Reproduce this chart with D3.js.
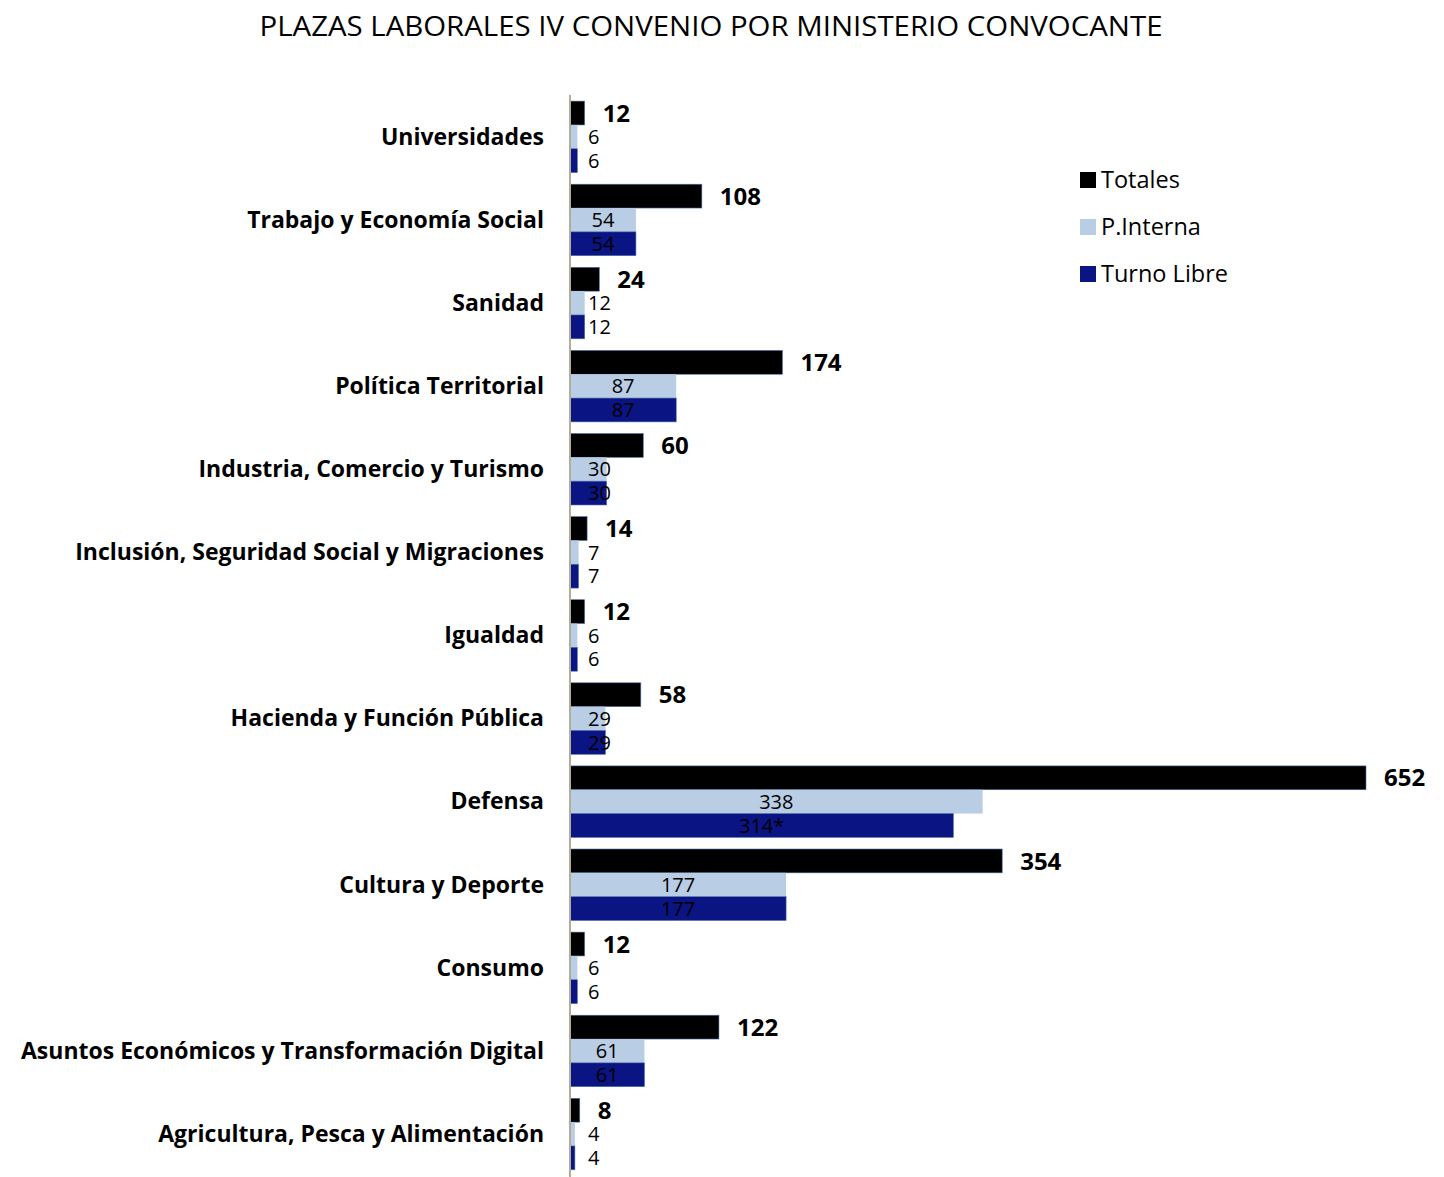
<!DOCTYPE html>
<html>
<head>
<meta charset="utf-8">
<script src="https://cdn.jsdelivr.net/npm/d3@7"></script>
<style>
  body { margin: 0; background: #fff; }
  svg { display: block; font-family: "Open Sans", "Noto Sans", sans-serif; }
</style>
</head>
<body>
<script>
// Datos del gráfico
var ministerios = ["Universidades", "Trabajo y Economía Social", "Sanidad", "Política Territorial",
  "Industria, Comercio y Turismo", "Inclusión, Seguridad Social y Migraciones", "Igualdad",
  "Hacienda y Función Pública", "Defensa", "Cultura y Deporte", "Consumo",
  "Asuntos Económicos y Transformación Digital", "Agricultura, Pesca y Alimentación"];
var totales = [12, 108, 24, 174, 60, 14, 12, 58, 652, 354, 12, 122, 8];
var pInterna = [6, 54, 12, 87, 30, 7, 6, 29, 338, 177, 6, 61, 4];
var turnoLibre = [6, 54, 12, 87, 30, 7, 6, 29, 314, 177, 6, 61, 4];
var etiquetasTurno = ["6", "54", "12", "87", "30", "7", "6", "29", "314*", "177", "6", "61", "4"];
var series = ["Totales", "P.Interna", "Turno Libre"];

var width = 1444, height = 1177;
var colores = { "Totales": "#000000", "P.Interna": "#b9cde5", "Turno Libre": "#0b1483" };

var svg = d3.select("body").append("svg")
  .attr("width", width)
  .attr("height", height);

// Título
svg.append("text")
  .attr("x", 711).attr("y", 36)
  .attr("text-anchor", "middle")
  .attr("font-size", 28)
  .attr("textLength", 903)
  .attr("lengthAdjust", "spacingAndGlyphs")
  .text("PLAZAS LABORALES IV CONVENIO POR MINISTERIO CONVOCANTE");

var x = d3.scaleLinear().domain([0, 652]).range([570, 1366]);
var y = d3.scaleBand().domain(ministerios).range([95.3, 1175.6])
  .paddingInner(0.14).paddingOuter(0.07);
var ySub = d3.scaleBand().domain(series).range([0, y.bandwidth()]);

// Filas de datos
var filas = ministerios.map(function(m, i) {
  return [
    { cat: m, serie: "Totales", valor: totales[i], etiqueta: String(totales[i]) },
    { cat: m, serie: "P.Interna", valor: pInterna[i], etiqueta: String(pInterna[i]) },
    { cat: m, serie: "Turno Libre", valor: turnoLibre[i], etiqueta: etiquetasTurno[i] }
  ];
});

var grupos = svg.selectAll("g.grupo")
  .data(filas)
  .enter().append("g")
  .attr("class", "grupo")
  .attr("transform", function(d) { return "translate(0," + y(d[0].cat) + ")"; });

grupos.selectAll("rect")
  .data(function(d) { return d; })
  .enter().append("rect")
  .attr("x", x(0))
  .attr("y", function(d) { return ySub(d.serie); })
  .attr("width", function(d) { return x(d.valor) - x(0); })
  .attr("height", ySub.bandwidth())
  .attr("fill", function(d) { return colores[d.serie]; })
  .attr("stroke", function(d) { return d.serie === "P.Interna" ? "none" : "#4a6fa5"; })
  .attr("stroke-width", 0.6);

// Etiquetas de totales
grupos.append("text")
  .datum(function(d) { return d[0]; })
  .attr("x", function(d) { return x(d.valor) + 18; })
  .attr("y", function(d) { return ySub(d.serie) + ySub.bandwidth() / 2; })
  .attr("dy", "0.36em")
  .attr("font-size", 24)
  .attr("font-weight", "bold")
  .text(function(d) { return d.etiqueta; });

// Etiquetas de P.Interna y Turno Libre
grupos.selectAll("text.sub")
  .data(function(d) { return d.slice(1); })
  .enter().append("text")
  .attr("class", "sub")
  .attr("y", function(d) { return ySub(d.serie) + ySub.bandwidth() / 2; })
  .attr("dy", "0.36em")
  .attr("font-size", 20)
  .attr("fill", "#000")
  .text(function(d) { return d.etiqueta; })
  .each(function(d) {
    var w = this.getComputedTextLength();
    var mid = (x(0) + x(d.valor)) / 2;
    var cx = Math.max(mid, 588 + w / 2);
    d3.select(this).attr("x", cx).attr("text-anchor", "middle");
  });

// Eje vertical
svg.append("line")
  .attr("x1", x(0)).attr("x2", x(0))
  .attr("y1", 95).attr("y2", 1177)
  .attr("stroke", "#b3ab9c")
  .attr("stroke-width", 2);

// Nombres de ministerios
svg.selectAll("text.cat")
  .data(ministerios)
  .enter().append("text")
  .attr("class", "cat")
  .attr("x", 544)
  .attr("y", function(d) { return y(d) + y.bandwidth() / 2; })
  .attr("dy", "0.34em")
  .attr("font-size", 23)
  .attr("text-anchor", "end")
  .attr("font-weight", "bold")
  .text(function(d) { return d; });

// Leyenda
var leyenda = svg.selectAll("g.leyenda")
  .data(series)
  .enter().append("g")
  .attr("class", "leyenda")
  .attr("transform", function(d, i) { return "translate(1080," + (180 + i * 47) + ")"; });

leyenda.append("rect")
  .attr("x", 0).attr("y", -8)
  .attr("width", 16).attr("height", 16)
  .attr("fill", function(d) { return colores[d]; });

leyenda.append("text")
  .attr("x", 21).attr("y", 0)
  .attr("dy", "0.36em")
  .attr("font-size", 23.5)
  .text(function(d) { return d; });
</script>
</body>
</html>
